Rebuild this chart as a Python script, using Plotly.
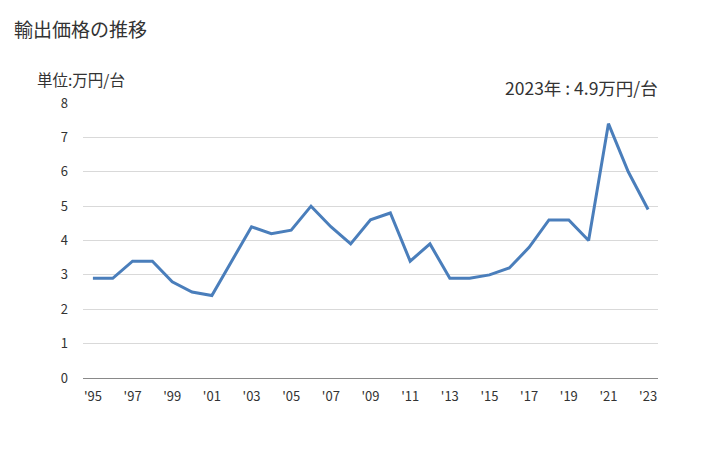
import plotly.graph_objects as go

years = list(range(1995, 2024))
values = [2.9, 2.9, 3.4, 3.4, 2.8, 2.5, 2.4, 3.4, 4.4, 4.2, 4.3, 5.0, 4.4, 3.9, 4.6, 4.8,
          3.4, 3.9, 2.9, 2.9, 3.0, 3.2, 3.8, 4.6, 4.6, 4.0, 7.4, 6.0, 4.9]
tick_years = list(range(1995, 2024, 2))
tick_labels = ["'" + str(y)[2:] for y in tick_years]

font = "Noto Sans CJK JP, sans-serif"

fig = go.Figure()
fig.add_trace(go.Scatter(x=years, y=values, mode="lines",
                         line=dict(color="#4a7ebb", width=3), hoverinfo="x+y"))

fig.update_layout(
    width=728, height=450,
    margin=dict(l=83, r=70, t=103, b=72),
    plot_bgcolor="white", paper_bgcolor="white",
    showlegend=False,
    font=dict(family=font, size=13, color="#333333"),
    xaxis=dict(range=[1994.5, 2023.5], tickmode="array", tickvals=tick_years,
               ticktext=tick_labels, showgrid=False, zeroline=False,
               showline=True, linecolor="#898989", linewidth=1,
               ticks="", ticklen=0, tickfont=dict(size=13), ticklabelstandoff=6),
    yaxis=dict(range=[0, 8], dtick=1, showgrid=True, gridcolor="#d9d9d9",
               gridwidth=1, zeroline=False, showline=False, ticks="",
               tickfont=dict(size=13), ticklabelstandoff=14),
    annotations=[
        dict(text="輸出価格の推移", xref="paper", yref="paper", x=-71/575, y=1 + (103-28)/275,
             xanchor="left", yanchor="middle", showarrow=False,
             font=dict(size=19, family=font, color="#333333")),
        dict(text="単位:万円/台", xref="paper", yref="paper", x=-48/575, y=1 + (103-79)/275,
             xanchor="left", yanchor="middle", showarrow=False,
             font=dict(size=15.5, family=font, color="#333333")),
        dict(text="2023年 : 4.9万円/台", xref="paper", yref="paper", x=1.0, y=1 + (103-87)/275,
             xanchor="right", yanchor="middle", showarrow=False, xshift=2,
             font=dict(size=17.5, family=font, color="#333333")),
    ],
)

fig.write_html("out.html")
